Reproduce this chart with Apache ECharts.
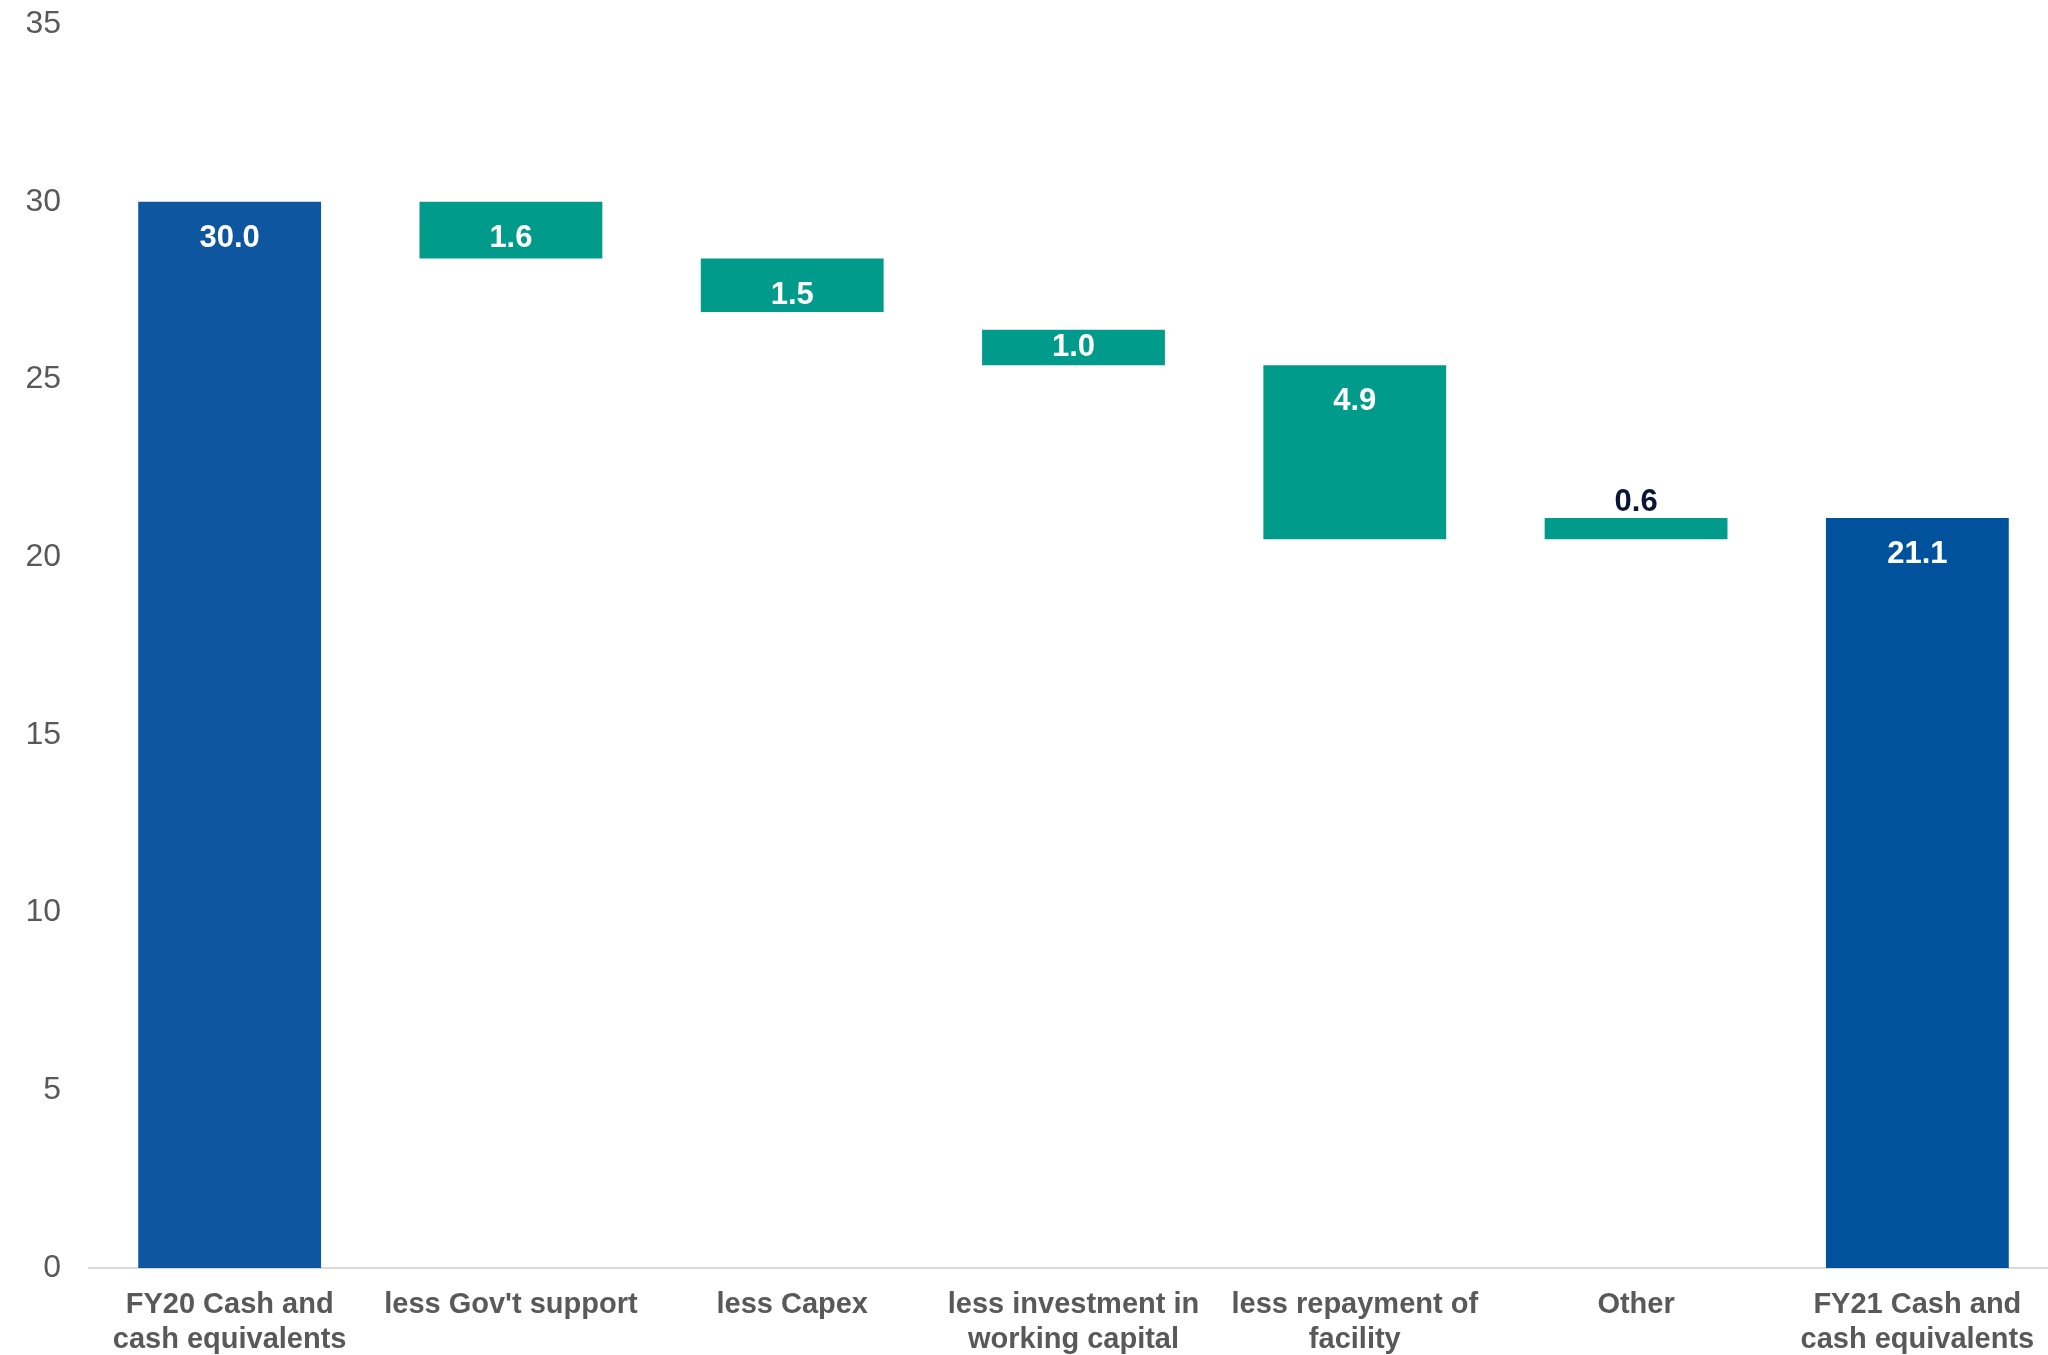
<!DOCTYPE html>
<html>
<head>
<meta charset="utf-8">
<script src="https://cdn.jsdelivr.net/npm/echarts@6/dist/echarts.min.js"></script>
<style>
html,body{margin:0;padding:0;background:#fff;overflow:hidden;}
#chart{width:2048px;height:1355px;}
</style>
</head>
<body>
<div id="chart"></div>
<script>
const categories = [
  "FY20 Cash and\ncash equivalents",
  "less Gov't support",
  "less Capex",
  "less investment in\nworking capital",
  "less repayment of\nfacility",
  "Other",
  "FY21 Cash and\ncash equivalents"
];
// invisible base of each floating bar
const baseValues = [0, 28.4, 26.9, 25.4, 20.5, 20.5, 0];
// visible bar height (the labelled amount)
const barValues = [30.0, 1.6, 1.5, 1.0, 4.9, 0.6, 21.1];
const barColors = ["#0F56A0", "#009B8B", "#009B8B", "#009B8B", "#009B8B", "#009B8B", "#00529C"];
const yTicks = { min: 0, max: 35, interval: 5 };

const FONT = '"Liberation Sans", Arial, sans-serif';

const visibleData = barValues.map((v, i) => {
  const item = { value: v, itemStyle: { color: barColors[i] } };
  if (i === 3) {
    item.label = { position: 'inside', distance: 0 };
  } else if (i === 5) {
    item.label = { position: 'top', distance: 0, color: '#0B1634' };
  }
  return item;
});

const chart = echarts.init(document.getElementById('chart'), null, { renderer: 'canvas' });
chart.setOption({
  backgroundColor: '#ffffff',
  animation: false,
  grid: { left: 89, width: 1969, top: 24, bottom: 87, containLabel: false, outerBoundsMode: 'none' },
  xAxis: {
    type: 'category',
    data: categories,
    axisLine: { show: true, lineStyle: { color: '#D9D9D9', width: 2 } },
    axisTick: { show: false },
    axisLabel: {
      interval: 0,
      margin: 19,
      color: '#595959',
      fontFamily: FONT,
      fontWeight: 'bold',
      fontSize: 29,
      lineHeight: 35
    }
  },
  yAxis: {
    type: 'value',
    min: yTicks.min,
    max: yTicks.max,
    interval: yTicks.interval,
    splitLine: { show: false },
    axisLine: { show: false },
    axisTick: { show: false },
    axisLabel: {
      margin: 28,
      color: '#595959',
      fontFamily: FONT,
      fontSize: 32,
      padding: [10, 0, 0, 0]
    }
  },
  series: [
    {
      type: 'bar',
      stack: 'wf',
      data: baseValues,
      itemStyle: { color: 'transparent' },
      barWidth: '65%',
      silent: true
    },
    {
      type: 'bar',
      stack: 'wf',
      data: visibleData,
      barWidth: '65%',
      label: {
        show: true,
        position: 'insideTop',
        distance: 21,
        color: '#ffffff',
        fontFamily: FONT,
        fontWeight: 'bold',
        fontSize: 31,
        formatter: p => Number(p.value).toFixed(1)
      }
    }
  ]
});
</script>
</body>
</html>
